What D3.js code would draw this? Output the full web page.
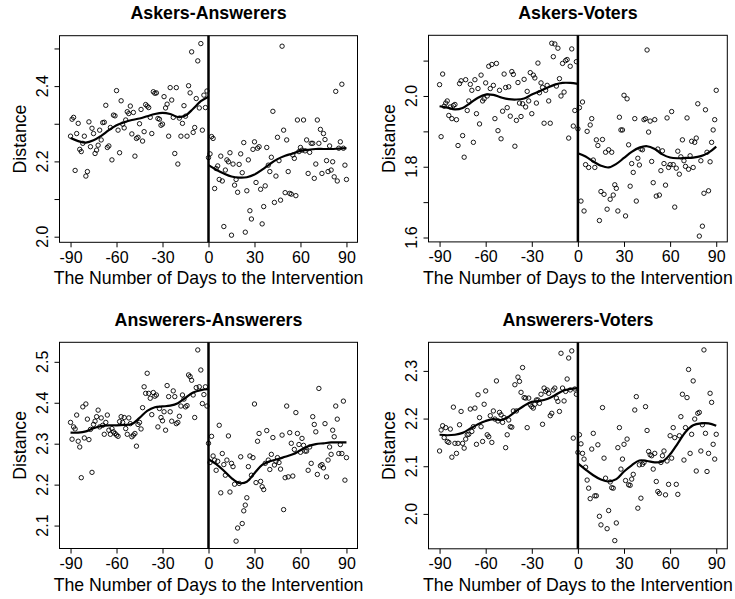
<!DOCTYPE html>
<html>
<head>
<meta charset="utf-8">
<script src="https://cdn.jsdelivr.net/npm/d3@7"></script>
<style>
  body { margin: 0; background: #fff; }
  svg { display: block; }
  text { font-family: "Liberation Sans", Arial, Helvetica, sans-serif; fill: #000; }
</style>
</head>
<body>
<svg id="chart"></svg>
<script>
// x categories: days to the intervention
const xTicks = [-90, -60, -30, 0, 30, 60, 90];
const fitDaysBefore = d3.range(-90, 1, 5);
const fitDaysAfter = d3.range(0, 91, 5);

// Askers-Answerers: daily distance, days -90..-1 and 0..90
const aaBefore = [2.267,2.312,2.317,2.176,2.274,2.301,2.232,2.226,2.248,2.267,
  2.161,2.173,2.305,2.239,2.288,2.274,2.221,2.230,2.243,2.283,
  2.257,2.303,2.304,2.349,2.237,2.241,2.290,2.204,2.323,2.321,
  2.388,2.283,2.223,2.361,2.299,2.289,2.310,2.332,2.327,2.347,
  2.273,2.330,2.214,2.261,2.264,2.300,2.338,2.254,2.279,2.351,
  2.347,2.343,2.317,2.274,2.385,2.381,2.382,2.314,2.312,2.296,
  2.299,2.372,2.342,2.352,2.267,2.396,2.363,2.317,2.221,2.396,
  2.193,2.315,2.267,2.301,2.348,2.320,2.267,2.401,2.382,2.491,
  2.277,2.290,2.367,2.467,2.342,2.513,2.283,2.376,2.343,2.387];
const aaAfter = [2.210,
  2.220,2.266,2.261,2.128,2.181,2.188,2.152,2.214,2.148,2.027,
  2.177,2.204,2.199,2.223,2.004,2.193,2.137,2.152,2.118,2.192,
  2.220,2.170,2.250,2.012,2.122,2.204,2.069,2.047,2.232,2.252,
  2.144,2.235,2.239,2.126,2.034,2.080,2.135,2.237,2.190,2.173,
  2.211,2.333,2.091,2.161,2.264,2.202,2.097,2.506,2.283,2.117,
  2.257,2.173,2.115,2.113,2.217,2.208,2.109,2.310,2.226,2.237,2.230,
  2.310,2.228,2.257,2.168,2.224,2.248,2.248,2.155,2.193,2.310,
  2.248,2.285,2.168,2.274,2.258,2.202,2.173,2.241,2.177,2.199,
  2.159,2.386,2.148,2.235,2.252,2.405,2.235,2.190,2.152];
const aaFitBefore = [2.262,2.254,2.250,2.256,2.268,2.283,2.296,2.304,2.310,2.314,2.320,2.326,2.329,2.326,2.318,2.322,2.340,2.360,2.372];
const aaFitAfter = [2.190,2.178,2.168,2.160,2.157,2.158,2.165,2.178,2.193,2.206,2.215,2.221,2.228,2.231,2.233,2.233,2.233,2.234,2.235];

// Askers-Voters
const avBefore = [2.032,1.885,2.062,1.971,1.980,1.986,1.945,1.969,1.936,1.973,
  1.976,1.933,1.860,
  2.035,2.043,1.888,1.827,2.046,1.959,1.986,2.033,2.016,1.869,
  2.046,1.950,2.021,1.921,2.059,1.986,1.992,2.037,2.000,
  2.084,2.021,2.089,2.030,1.936,2.092,1.902,2.016,1.879,1.957,
  2.062,2.024,1.967,2.026,1.943,2.069,2.061,1.858,1.931,2.038,
  1.980,1.942,1.978,2.047,1.969,
  2.013,1.986,2.066,1.950,2.059,2.051,1.980,2.093,2.009,2.037,
  2.024,1.923,2.016,2.030,1.986,1.923,2.149,2.111,2.147,2.028,
  2.135,2.049,2.000,2.092,2.011,2.100,2.103,1.881,2.084,2.133,
  1.915,1.959,2.097];
const avAfter = [1.907,
  1.967,1.703,1.983,1.675,1.806,1.900,1.798,1.918,1.936,1.819,
  1.798,1.876,1.860,1.648,1.730,1.877,1.722,1.841,1.680,1.848,
  1.708,1.841,1.720,1.749,1.739,1.675,1.940,1.904,1.904,2.002,
  1.661,1.992,1.862,1.745,1.809,1.784,1.936,1.703,1.824,1.805,1.850,
  1.848,1.933,1.936,2.130,1.898,1.929,1.815,1.755,1.933,1.717,
  1.850,1.720,1.789,1.845,1.809,1.748,1.938,1.798,1.806,1.956,
  1.806,1.686,1.796,1.844,1.779,1.828,1.876,1.817,1.801,1.938,
  1.793,1.831,1.872,1.798,1.869,1.881,1.978,1.604,1.817,1.632,
  1.725,1.961,1.841,1.732,1.814,1.869,1.904,1.933,2.016];
const avFitBefore = [1.971,1.967,1.962,1.966,1.980,1.995,2.004,2.003,1.996,1.991,1.990,1.993,2.004,2.013,2.023,2.032,2.037,2.037,2.034];
const avFitAfter = [1.838,1.829,1.815,1.803,1.798,1.808,1.825,1.842,1.854,1.858,1.850,1.835,1.826,1.824,1.825,1.826,1.830,1.840,1.857];

// Answerers-Answerers
const wwBefore = [2.352,2.311,2.341,2.336,2.370,2.306,2.292,
  2.217,2.390,2.314,2.397,2.360,
  2.310,2.335,2.230,2.347,2.355,2.366,2.382,
  2.341,2.363,2.345,2.323,2.352,2.370,2.333,2.323,2.337,2.329,2.325,2.321,2.318,2.354,2.366,
  2.352,2.364,2.337,2.323,2.363,2.349,2.317,2.321,2.325,2.294,2.347,2.352,2.336,2.388,
  2.439,2.423,2.472,2.423,2.411,2.371,2.425,2.416,2.419,2.341,
  2.386,2.364,2.356,2.378,2.333,2.442,2.415,2.378,2.355,2.429,
  2.415,2.349,2.352,2.367,2.392,2.419,2.409,2.390,2.393,2.468,
  2.464,2.455,2.419,2.364,2.437,2.529,2.439,2.480,2.398,2.420,
  2.439,2.392];
const wwAfter = [2.301,
  2.254,2.318,2.270,2.260,2.235,2.257,2.345,2.180,2.276,2.249,
  2.223,2.260,2.319,2.182,2.252,2.244,2.201,2.062,2.094,2.203,
  2.268,2.105,2.136,2.150,2.168,2.244,2.270,2.223,2.266,2.397,
  2.205,2.306,2.325,2.208,2.195,2.188,2.252,2.332,2.260,2.237,2.274,2.315,
  2.248,2.257,2.266,2.254,2.238,2.321,2.139,2.217,2.392,2.219,
  2.327,2.301,2.221,2.286,2.376,2.325,2.298,2.279,2.313,2.296,
  2.282,2.282,2.235,2.292,2.252,2.366,2.347,2.329,2.225,2.435,
  2.246,2.249,2.241,2.349,2.219,2.260,2.292,2.274,2.333,2.317,
  2.392,2.360,2.276,
  2.298,2.276,2.404,2.211,2.266];
const wwFitBefore = [2.327,2.327,2.330,2.338,2.343,2.345,2.345,2.346,2.348,2.363,2.380,2.389,2.391,2.393,2.399,2.412,2.425,2.431,2.433];
const wwFitAfter = [2.262,2.250,2.234,2.216,2.204,2.207,2.228,2.248,2.257,2.262,2.268,2.274,2.284,2.294,2.299,2.301,2.303,2.303,2.303];

// Answerers-Voters
const wvBefore = [2.132,2.176,2.185,
  2.160,2.181,2.152,2.150,2.178,2.119,2.224,2.148,2.127,2.148,
  2.187,2.215,2.148,2.138,2.157,2.166,2.167,2.220,2.173,2.183,
  2.222,2.146,2.250,2.202,2.183,2.152,2.230,2.258,2.166,2.162,
  2.206,2.150,2.216,2.199,2.279,2.195,2.213,2.208,2.192,2.202,
  2.139,2.166,2.197,2.183,2.182,2.216,2.271,2.216,
  2.287,2.278,2.255,2.307,2.244,2.243,2.181,2.243,2.229,2.225,
  2.222,2.230,2.239,2.239,2.232,2.251,2.188,2.264,2.257,2.260,
  2.253,2.206,2.211,2.260,2.264,2.243,2.236,2.215,2.337,2.264,
  2.237,2.257,2.283,2.327,2.260,2.342,2.159,2.262,2.251];
const wvAfter = [2.129,
  2.166,2.147,2.127,2.115,2.098,2.071,2.054,2.032,2.136,2.169,2.038,
  2.038,2.145,1.995,1.977,2.223,2.117,2.075,1.969,2.007,2.067,
  2.055,2.054,1.944,1.981,2.139,2.181,2.094,2.115,2.146,2.070,
  2.157,2.061,2.060,2.073,2.083,2.218,2.246,2.012,2.103,2.033,
  2.104,2.108,2.225,2.175,2.131,2.124,2.122,2.094,2.127,2.068,
  2.047,2.043,2.108,2.122,2.132,2.040,2.111,2.062,2.164,2.117,
  2.181,2.160,2.062,2.041,2.164,2.204,2.251,2.113,2.181,2.244,
  2.303,2.127,2.167,2.279,2.199,2.090,2.211,2.213,2.132,2.187,
  2.344,2.169,2.089,2.127,2.253,
  2.234,2.146,2.115,2.167];
const wvFitBefore = [2.166,2.165,2.166,2.170,2.179,2.188,2.195,2.199,2.197,2.204,2.216,2.227,2.235,2.237,2.241,2.249,2.258,2.262,2.264];
const wvFitAfter = [2.106,2.093,2.081,2.072,2.068,2.073,2.089,2.102,2.112,2.111,2.108,2.110,2.125,2.148,2.172,2.186,2.190,2.190,2.185];

// y tick values and which ones get a label
const aaTicks = [2.0, 2.1, 2.2, 2.3, 2.4, 2.5], aaLabels = [2.0, 2.2, 2.4];
const avTicks = [1.6, 1.7, 1.8, 1.9, 2.0, 2.1], avLabels = [1.6, 1.8, 2.0];
const wwTicks = [2.1, 2.2, 2.3, 2.4, 2.5], wwLabels = wwTicks;
const wvTicks = [2.0, 2.1, 2.2, 2.3], wvLabels = wvTicks;

const width = 735;
const height = 599;

const panels = [
  { title: 'Askers-Answerers', before: aaBefore, after: aaAfter, fitBefore: aaFitBefore, fitAfter: aaFitAfter,
    ticks: aaTicks, labels: aaLabels, box: [59.5, 35.7, 357.5, 242.3], yDomain: [1.9851, 2.5339] },
  { title: 'Askers-Voters', before: avBefore, after: avAfter, fitBefore: avFitBefore, fitAfter: avFitAfter,
    ticks: avTicks, labels: avLabels, box: [428.5, 35.3, 727.3, 241.9], yDomain: [1.5876, 2.1715] },
  { title: 'Answerers-Answerers', before: wwBefore, after: wwAfter, fitBefore: wwFitBefore, fitAfter: wwFitAfter,
    ticks: wwTicks, labels: wwLabels, box: [59.5, 342.3, 357.5, 548.5], yDomain: [2.044, 2.5477] },
  { title: 'Answerers-Voters', before: wvBefore, after: wvAfter, fitBefore: wvFitBefore, fitAfter: wvFitAfter,
    ticks: wvTicks, labels: wvLabels, box: [428.5, 342.3, 727.3, 548.8], yDomain: [1.9268, 2.360] }
];

let svg = d3.select('#chart').attr('width', width).attr('height', height);

panels.forEach((p) => {
  let [x0, y0, x1, y1] = p.box;
  let x = d3.scaleLinear().domain([-97.2, 97.2]).range([x0, x1]);
  let y = d3.scaleLinear().domain(p.yDomain).range([y1, y0]);
  let g = svg.append('g');

  let points = p.before.map((v, i) => ({ day: i - p.before.length, value: v }))
    .concat(p.after.map((v, i) => ({ day: i, value: v })));

  // x axis
  let xAxis = d3.axisBottom(x).tickValues(xTicks).tickSize(5).tickPadding(3).tickFormat(d3.format('d'));
  let xa = g.append('g').attr('transform', `translate(0,${y1})`).call(xAxis);
  xa.select('.domain').remove();
  xa.selectAll('line').attr('stroke', '#000');
  xa.selectAll('text').attr('font-size', 16).attr('dy', null).attr('y', 20.4)
    .text((d) => (d < 0 ? '-' + Math.abs(d) : d));

  // y axis
  let yAxis = d3.axisLeft(y).tickValues(p.ticks).tickSize(5).tickFormat('');
  let ya = g.append('g').attr('transform', `translate(${x0},0)`).call(yAxis);
  ya.select('.domain').remove();
  ya.selectAll('line').attr('stroke', '#000');
  g.selectAll('.ylab').data(p.labels).enter().append('text')
    .attr('transform', (d) => `translate(${x0 - 11.5},${y(d)}) rotate(-90)`)
    .attr('text-anchor', 'middle').attr('font-size', 16)
    .text((d) => d.toFixed(1));

  // box
  g.append('rect').attr('x', x0).attr('y', y0).attr('width', x1 - x0).attr('height', y1 - y0)
    .attr('fill', 'none').attr('stroke', '#000').attr('stroke-width', 1);

  // intervention line
  g.append('line').attr('x1', x(0)).attr('x2', x(0)).attr('y1', y0).attr('y2', y1)
    .attr('stroke', '#000').attr('stroke-width', 2.5);

  // points
  g.selectAll('circle').data(points).enter().append('circle')
    .attr('cx', (d) => x(d.day)).attr('cy', (d) => y(d.value)).attr('r', 2.2)
    .attr('fill', 'none').attr('stroke', '#000').attr('stroke-width', 0.9);

  // smoothed fits
  let line = d3.line().x((d) => x(d[0])).y((d) => y(d[1])).curve(d3.curveCatmullRom.alpha(0.5));
  g.append('path').datum(fitDaysBefore.map((d, i) => [d, p.fitBefore[i]]))
    .attr('d', line).attr('fill', 'none').attr('stroke', '#000').attr('stroke-width', 2.2);
  g.append('path').datum(fitDaysAfter.map((d, i) => [d, p.fitAfter[i]]))
    .attr('d', line).attr('fill', 'none').attr('stroke', '#000').attr('stroke-width', 2.2);

  // titles and axis labels
  g.append('text').attr('x', (x0 + x1) / 2).attr('y', y0 - 16.7).attr('text-anchor', 'middle')
    .attr('font-size', 17.8).attr('font-weight', 'bold').text(p.title);
  g.append('text').attr('x', (x0 + x1) / 2).attr('y', y1 + 42).attr('text-anchor', 'middle')
    .attr('font-size', 17.7).text('The Number of Days to the Intervention');
  g.append('text').attr('transform', `translate(${x0 - 33.5},${(y0 + y1) / 2}) rotate(-90)`)
    .attr('text-anchor', 'middle').attr('font-size', 17.7).text('Distance');
});
</script>
</body>
</html>
